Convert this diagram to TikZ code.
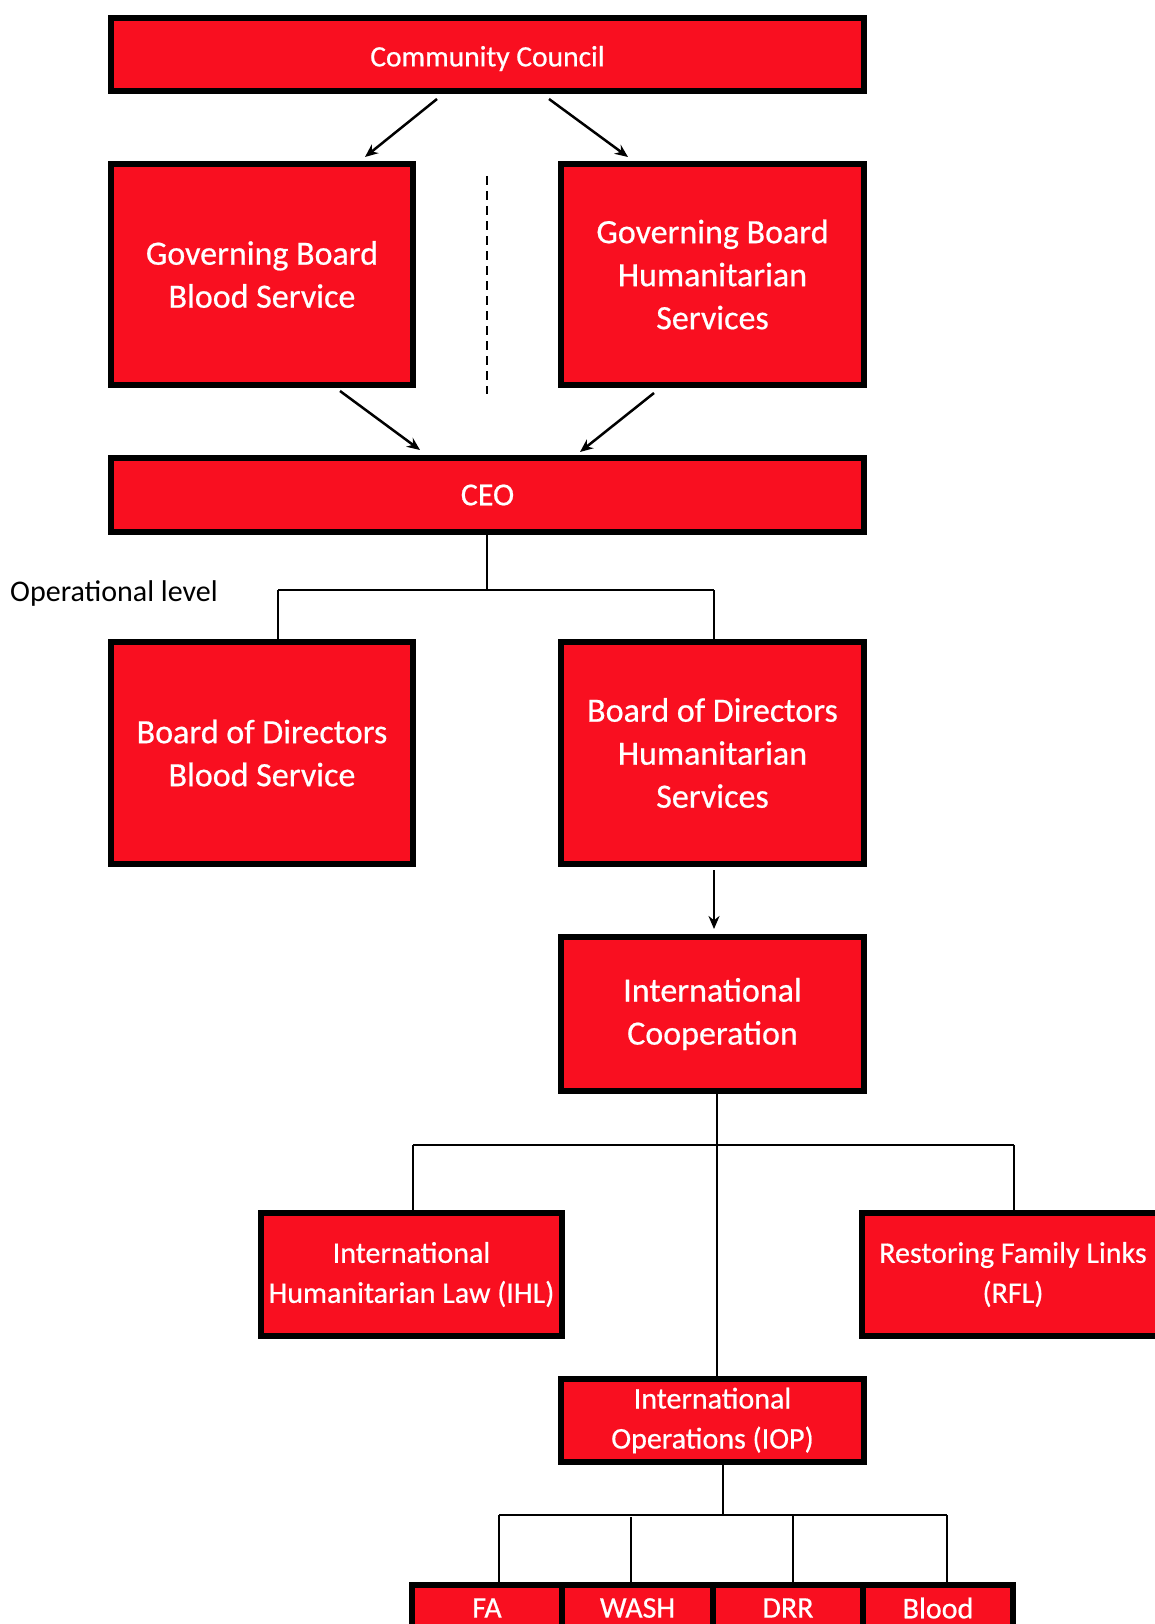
\documentclass[tikz,border=0pt]{standalone}
\usepackage{fontspec}
\setmainfont{Carlito}
\newfontface\heavyface{Carlito}[FakeBold=0.6]
\usetikzlibrary{arrows.meta,calc}
\definecolor{cred}{RGB}{249,15,32}
\newcommand{\shiftdown}[2]{\raisebox{#1}[\height][\depth]{#2}}
\tikzset{
  orgbox/.style={draw=black, line width=6pt, fill=cred, text=white, align=center, inner sep=0pt},
  bigtxt/.style={font=\heavyface\fontsize{34}{43}\selectfont},
  midtxt/.style={font=\heavyface\fontsize{30}{40}\selectfont},
  bartxt/.style={font=\heavyface\fontsize{29.5}{36}\selectfont},
  conn/.style={draw=black, line width=2.5pt},
  arr/.style={conn, -{Stealth[length=13pt,width=11pt]}},
  dashline/.style={draw=black, line width=2.5pt, dash pattern=on 9pt off 6pt}
}
\begin{document}
\begin{tikzpicture}[x=1pt,y=-1pt]
\useasboundingbox (0,0) rectangle (1155,1624);
\clip (0,0) rectangle (1155,1624);
% boxes
\node[orgbox, bartxt, minimum width=753pt, minimum height=73pt] (cc) at (487.5,54.5) {\shiftdown{-4pt}{Community Council}};
\node[orgbox, bigtxt, minimum width=302pt, minimum height=221pt] (gbb) at (262,274.5) {Governing Board\\Blood Service};
\node[orgbox, bigtxt, minimum width=303pt, minimum height=221pt] (gbh) at (712.5,274.5) {Governing Board\\Humanitarian\\Services};
\node[orgbox, font=\heavyface\fontsize{32}{38}\selectfont, minimum width=753pt, minimum height=74pt] (ceo) at (487.5,495) {CEO};
\node[font=\fontsize{30}{36}\selectfont, anchor=west, inner sep=0pt] (op) at (10,593) {Operational level};
\node[orgbox, bigtxt, minimum width=302pt, minimum height=222pt] (bdb) at (262,753) {Board of Directors\\Blood Service};
\node[orgbox, bigtxt, minimum width=303pt, minimum height=222pt] (bdh) at (712.5,753) {Board of Directors\\Humanitarian\\Services};
\node[orgbox, bigtxt, minimum width=303pt, minimum height=154pt] (ic) at (712.5,1014) {International\\Cooperation};
\node[orgbox, midtxt, minimum width=301pt, minimum height=123pt] (ihl) at (411.5,1274.5) {International\\Humanitarian Law (IHL)};
\node[orgbox, midtxt, minimum width=302pt, minimum height=123pt] (rfl) at (1013,1274.5) {Restoring Family Links\\(RFL)};
\node[orgbox, midtxt, minimum width=303pt, minimum height=83pt] (iop) at (712.5,1420.5) {International\\Operations (IOP)};
\node[orgbox, midtxt, minimum width=150pt, minimum height=50pt] (fa) at (487,1610) {\shiftdown{2pt}{FA}};
\node[orgbox, midtxt, minimum width=151pt, minimum height=50pt] (wash) at (637.5,1610) {\shiftdown{2pt}{WASH}};
\node[orgbox, midtxt, minimum width=150pt, minimum height=50pt] (drr) at (788,1610) {\shiftdown{2pt}{DRR}};
\node[orgbox, midtxt, minimum width=150pt, minimum height=50pt] (blood) at (938,1610) {\shiftdown{2pt}{Blood}};
% arrows top
\draw[arr] ($(cc.south)+(-50.5,5)$) -- ($(gbb.north)+(103,-4)$);
\draw[arr] ($(cc.south)+(61.5,5)$) -- ($(gbh.north)+(-84.5,-4)$);
\draw[arr] ($(gbb.south)+(78,3)$) -- ($(ceo.north)+(-67.5,-5)$);
\draw[arr] ($(gbh.south)+(-58.5,5)$) -- ($(ceo.north)+(92.5,-3)$);
\coordinate (d1) at (487,176);
\coordinate (d2) at (487,394);
\draw[dashline] (d1) -- (d2);
% CEO tree
\coordinate (j0) at (487,590);
\coordinate (jl) at (278,590);
\coordinate (jr) at (714,590);
\draw[conn] (ceo.south -| j0) -- (j0);
\draw[conn] (jl) -- (jr);
\draw[conn] (jl) -- ($(jl |- bdb.north)+(0,5)$);
\draw[conn] (jr) -- (jr |- bdh.north);
\draw[arr] ($(bdh.south)+(1.5,3)$) -- ($(ic.north)+(1.5,-5)$);
% IC tree
\coordinate (k0) at (717,1145);
\coordinate (kl) at (413,1145);
\coordinate (kr) at (1014,1145);
\draw[conn] (ic.south -| k0) -- (iop.north -| k0);
\draw[conn] (kl) -- (kr);
\draw[conn] (kl) -- ($(kl |- ihl.north)+(0,5)$);
\draw[conn] (kr) -- (kr |- rfl.north);
% IOP tree
\coordinate (m0) at (723,1515);
\coordinate (m1) at (499,1515);
\coordinate (m2) at (631,1517);
\coordinate (m3) at (793,1515);
\coordinate (m4) at (947,1515);
\draw[conn] (iop.south -| m0) -- (m0);
\draw[conn] (m1) -- (m4);
\draw[conn] (m1) -- (m1 |- fa.north);
\draw[conn] (m2) -- (m2 |- wash.north);
\draw[conn] (m3) -- (m3 |- drr.north);
\draw[conn] (m4) -- (m4 |- blood.north);
\end{tikzpicture}
\end{document}
